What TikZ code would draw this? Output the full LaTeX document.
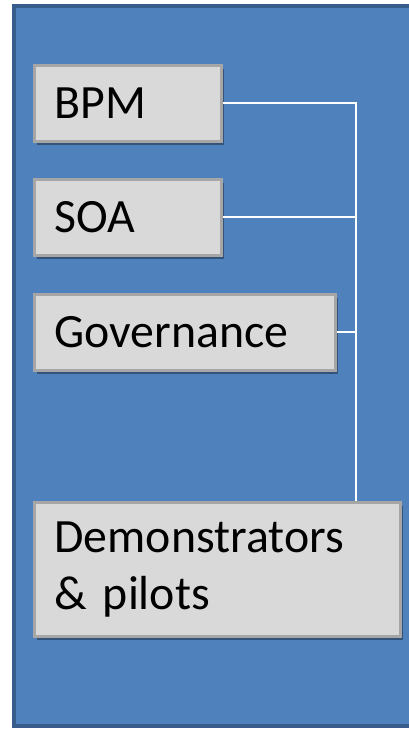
\documentclass[tikz,border=0pt]{standalone}
\usepackage{fontspec}
\setmainfont{Carlito}
\usetikzlibrary{shadows}
\definecolor{panelblue}{HTML}{4F81BD}
\definecolor{paneledge}{HTML}{385D8A}
\definecolor{boxgrey}{HTML}{D9D9D9}
\definecolor{boxedge}{HTML}{A6A6A6}
\tikzset{
  itembox/.style={draw=boxedge, fill=boxgrey, line width=0.07cm, anchor=north west,
    inner xsep=0.5cm, inner ysep=0pt, align=left,
    font=\fontsize{34}{40}\selectfont,
    drop shadow={shadow xshift=0.07cm, shadow yshift=-0.09cm, opacity=0.35, fill=black}},
  link/.style={white, line width=0.05cm}
}
\begin{document}
\begin{tikzpicture}[x=0.025cm, y=-0.025cm]
        \useasboundingbox (0,0) rectangle (408,730);
        \draw[paneledge, fill=panelblue, line width=0.1cm] (14,6) rectangle (440,726);
        
        \node[itembox, text width=3.68cm, minimum height=1.9cm] (bpm) at (33,64) {BPM};
        \node[itembox, text width=3.68cm, minimum height=1.9cm] (soa) at (33,178) {SOA};
        \node[itembox, text width=6.53cm, minimum height=1.9cm] (gov) at (33,293) {Governance};
        \node[itembox, text width=8.15cm, minimum height=3.35cm] (demo) at (33,501) {Demonstrators\\\& pilots};
        
        \coordinate (bus) at (356,0);
        \draw[link] (bpm.east) -| (bus |- demo.north);
        \draw[link] (soa.east) -- (soa.east -| bus);
        \draw[link] (gov.east) -- (gov.east -| bus);
    \end{tikzpicture}
\end{document}
